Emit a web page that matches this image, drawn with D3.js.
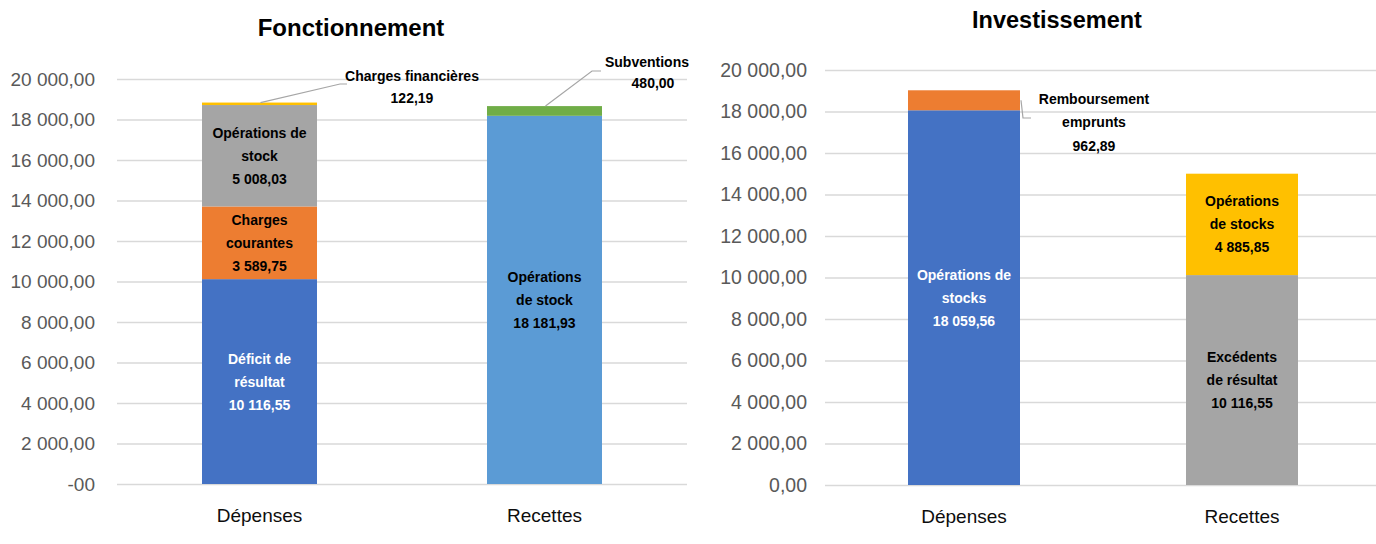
<!DOCTYPE html>
<html><head><meta charset="utf-8">
<script src="https://cdn.jsdelivr.net/npm/d3@7"></script>
<style>
html,body{margin:0;padding:0;background:#fff;}
svg text{font-family:"Liberation Sans Narrow","Arial Narrow","Liberation Sans",sans-serif;}
</style></head>
<body>
<svg id="chart" width="1376" height="544"></svg>
<script>
// ---------- DATA ----------
const categories = ["Dépenses", "Recettes"];

// Fonctionnement
const fonctDepensesNames  = ["Déficit de résultat", "Charges courantes", "Opérations de stock", "Charges financières"];
const fonctDepensesValues = [10116.55, 3589.75, 5008.03, 122.19];
const fonctRecettesNames  = ["Opérations de stock", "Subventions"];
const fonctRecettesValues = [18181.93, 480.00];

// Investissement
const investDepensesNames  = ["Opérations de stocks", "Remboursement emprunts"];
const investDepensesValues = [18059.56, 962.89];
const investRecettesNames  = ["Excédents de résultat", "Opérations de stocks"];
const investRecettesValues = [10116.55, 4885.85];

const tickValues = [0, 2000, 4000, 6000, 8000, 10000, 12000, 14000, 16000, 18000, 20000];
const fonctTickLabels  = ["-00", "2 000,00", "4 000,00", "6 000,00", "8 000,00", "10 000,00", "12 000,00", "14 000,00", "16 000,00", "18 000,00", "20 000,00"];
const investTickLabels = ["0,00", "2 000,00", "4 000,00", "6 000,00", "8 000,00", "10 000,00", "12 000,00", "14 000,00", "16 000,00", "18 000,00", "20 000,00"];

// ---------- STYLE ----------
const fr = d3.formatLocale({decimal: ",", thousands: " ", grouping: [3], currency: ["", ""]});
const fmt = fr.format(",.2f");

const svg = d3.select("#chart");

function drawChart(cfg) {
  const g = svg.append("g");
  const y = d3.scaleLinear().domain([0, 20000]).range([cfg.y0, cfg.y1]);
  const x = d3.scalePoint().domain(categories).range(cfg.xr).padding(0.5);
  const bw = cfg.bw;

  // gridlines + tick labels
  const axis = d3.axisLeft(y).tickValues(tickValues).tickSize(-(cfg.xr[1] - cfg.xr[0])).tickPadding(cfg.tickPad)
    .tickFormat((d, i) => cfg.tickLabels[i]);
  const ax = g.append("g").attr("transform", `translate(${cfg.xr[0]},0)`).call(axis);
  ax.select(".domain").remove();
  ax.selectAll(".tick line").attr("stroke", "#d9d9d9").attr("stroke-width", 1.3);
  ax.selectAll(".tick text").attr("fill", "#595959").style("font-size", cfg.tickSize)
    .style("font-family", "'Liberation Sans Narrow','Arial Narrow','Liberation Sans',sans-serif");

  // title
  g.append("text").attr("x", cfg.titleX).attr("y", cfg.titleY).attr("text-anchor", "middle")
    .style("font-size", cfg.titleSize).style("font-weight", "bold").attr("fill", "#000")
    .text(cfg.title);

  // category labels
  g.selectAll(".cat").data(categories).join("text")
    .attr("x", d => x(d)).attr("y", cfg.catY).attr("text-anchor", "middle")
    .style("font-size", "19px").attr("fill", "#0d0d0d")
    .text(d => d);

  // stacks
  cfg.stacks.forEach((st, si) => {
    const cat = categories[si];
    let acc = 0;
    st.values.forEach((v, j) => {
      const s0 = acc, s1 = acc + v; acc = s1;
      g.append("rect")
        .attr("x", x(cat) - bw / 2).attr("width", bw)
        .attr("y", y(s1)).attr("height", y(s0) - y(s1))
        .attr("fill", st.colors[j]);
      const lab = st.labels[j];
      if (!lab) return;
      const lines = lab.lines.concat([fmt(v)]);
      let cx, cy;
      if (lab.inside) { cx = x(cat); cy = y((s0 + s1) / 2); }
      else { cx = lab.cx; cy = lab.cy; }
      const lh = lab.lh || 23;
      const t = g.append("text").attr("text-anchor", "middle").attr("fill", lab.color)
        .style("font-size", "14px").style("font-weight", "bold");
      lines.forEach((ln, k) => {
        t.append("tspan").attr("x", cx + (lab.dx && lab.dx[k] ? lab.dx[k] : 0))
          .attr("y", cy + (k - (lines.length - 1) / 2) * lh + 5).text(ln);
      });
      if (lab.leader) {
        const pts = lab.leader(x(cat), bw, y(s1), y(s0));
        g.append("path").attr("d", d3.line()(pts)).attr("fill", "none")
          .attr("stroke", "#a6a6a6").attr("stroke-width", 1.2);
      }
    });
  });
}

drawChart({
  title: "Fonctionnement", titleX: 351, titleY: 36, titleSize: "24px",
  y0: 484, y1: 79, xr: [117, 687], bw: 115, tickPad: 22, tickSize: "19px", tickLabels: fonctTickLabels, catY: 522,
  stacks: [
    {names: fonctDepensesNames, values: fonctDepensesValues,
     colors: ["#4472c4", "#ed7d31", "#a5a5a5", "#ffc000"],
     labels: [
       {inside: true, lines: ["Déficit de", "résultat"], color: "#fff"},
       {inside: true, lines: ["Charges", "courantes"], color: "#000"},
       {inside: true, lines: ["Opérations de", "stock"], color: "#000"},
       {inside: false, lines: ["Charges financières"], color: "#000", cx: 412, cy: 87, lh: 22,
        leader: (cx, bw, yt) => [[cx + 1, yt], [340, 84], [347, 84]]}
     ]},
    {names: fonctRecettesNames, values: fonctRecettesValues,
     colors: ["#5b9bd5", "#70ad47"],
     labels: [
       {inside: true, lines: ["Opérations", "de stock"], color: "#000"},
       {inside: false, lines: ["Subventions"], color: "#000", cx: 647, cy: 72, lh: 21, dx: [0, 6],
        leader: (cx, bw, yt) => [[cx + 1, yt], [592, 71], [601, 71]]}
     ]}
  ]
});

drawChart({
  title: "Investissement", titleX: 1057, titleY: 28, titleSize: "23.5px",
  y0: 485, y1: 70, xr: [825, 1381], bw: 112, tickPad: 18, tickSize: "19.5px", tickLabels: investTickLabels, catY: 523,
  stacks: [
    {names: investDepensesNames, values: investDepensesValues,
     colors: ["#4472c4", "#ed7d31"],
     labels: [
       {inside: true, lines: ["Opérations de", "stocks"], color: "#fff"},
       {inside: false, lines: ["Remboursement", "emprunts"], color: "#000", cx: 1094, cy: 122, lh: 23.5,
        leader: (cx, bw, yt, yb) => [[cx + bw / 2 + 1, (yt + yb) / 2], [cx + bw / 2 + 3, 118], [1031, 118]]}
     ]},
    {names: investRecettesNames, values: investRecettesValues,
     colors: ["#a5a5a5", "#ffc000"],
     labels: [
       {inside: true, lines: ["Excédents", "de résultat"], color: "#000"},
       {inside: true, lines: ["Opérations", "de stocks"], color: "#000"}
     ]}
  ]
});
</script>
</body></html>
